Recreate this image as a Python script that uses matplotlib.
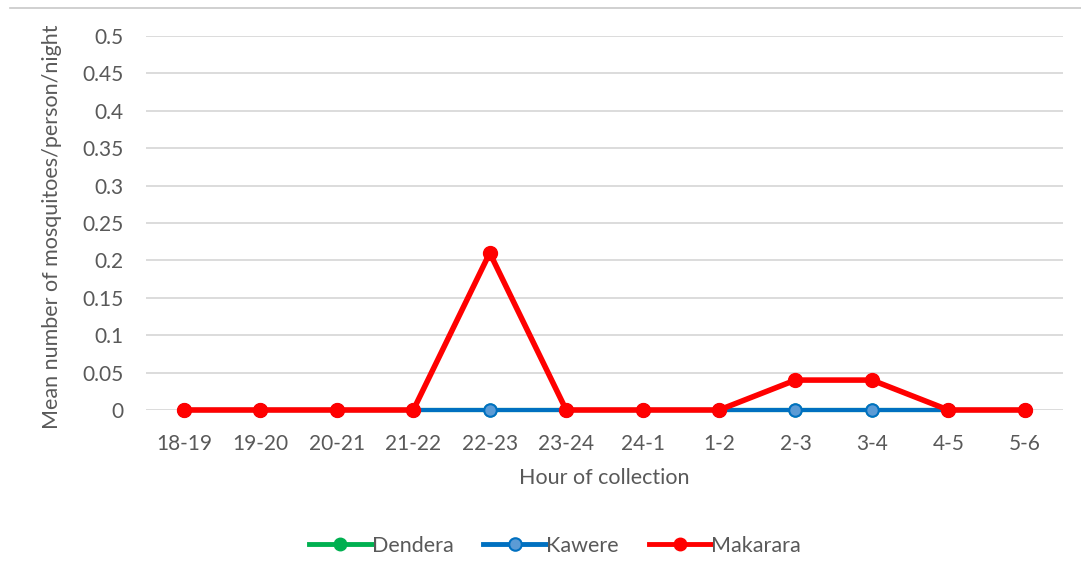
import matplotlib
matplotlib.use("Agg")
import matplotlib.pyplot as plt
from matplotlib.lines import Line2D

hours = ["18-19", "19-20", "20-21", "21-22", "22-23", "23-24",
         "24-1", "1-2", "2-3", "3-4", "4-5", "5-6"]
dendera = [0, 0, 0, 0, 0, 0, 0, 0, 0, 0, 0, 0]
kawere = [0, 0, 0, 0, 0, 0, 0, 0, 0, 0, 0, 0]
makarara = [0, 0, 0, 0, 0.21, 0, 0, 0, 0.04, 0.04, 0, 0]
y_ticks = [0, 0.05, 0.1, 0.15, 0.2, 0.25, 0.3, 0.35, 0.4, 0.45, 0.5]
y_tick_labels = ["0", "0.05", "0.1", "0.15", "0.2", "0.25", "0.3",
                 "0.35", "0.4", "0.45", "0.5"]

plt.rcParams["font.family"] = ["Lato", "DejaVu Sans"]
text_color = "#595959"

W, H = 1081, 561
fig = plt.figure(figsize=(W / 100, H / 100), dpi=100)
ax = fig.add_axes([145.8 / W, 1 - 410 / H, (1063 - 145.8) / W, (410 - 36) / H])

x = list(range(len(hours)))
ax.plot(x, dendera, color="#00B050", lw=3, marker="o", ms=9,
        mfc="#00B050", mec="#00B050", zorder=3, label="Dendera")
ax.plot(x, kawere, color="#0070C0", lw=3, marker="o", ms=9,
        mfc="#5B9BD5", mec="#0070C0", mew=1.5, zorder=4, label="Kawere")
ax.plot(x, makarara, color="#FF0000", lw=4, marker="o", ms=10,
        mfc="#FF0000", mec="#FF0000", zorder=5, label="Makarara")

ax.set_xlim(-0.5, len(hours) - 0.5)
ax.set_ylim(0, 0.5)
ax.set_yticks(y_ticks)
ax.set_yticklabels(y_tick_labels)
ax.set_xticks(x)
ax.set_xticklabels(hours)
ax.tick_params(axis="both", length=0, labelsize=15, colors=text_color)
ax.tick_params(axis="y", pad=16)
ax.tick_params(axis="x", pad=17)
for s in ax.spines.values():
    s.set_visible(False)
ax.yaxis.grid(True, color="#D9D9D9", lw=1.3)
ax.set_axisbelow(True)
for line in ax.lines:
    line.set_clip_on(False)

ax.set_xlabel("Hour of collection", fontsize=15.5, color=text_color, labelpad=10)
fig.text(52 / W, 1 - 227 / H, "Mean number of mosquitoes/person/night",
         rotation=90, ha="center", va="center", fontsize=15.5, color=text_color)

# thin frame line across the top
fig.add_artist(Line2D([10 / W, 1.0], [1 - 8 / H, 1 - 8 / H],
                      transform=fig.transFigure, color="#C8C8C8", lw=1.2))

handles = [
    Line2D([], [], color="#00B050", lw=3.5, marker="o", ms=9, mfc="#00B050", mec="#00B050"),
    Line2D([], [], color="#0070C0", lw=3.5, marker="o", ms=9, mfc="#5B9BD5", mec="#0070C0", mew=1.5),
    Line2D([], [], color="#FF0000", lw=3.5, marker="o", ms=9, mfc="#FF0000", mec="#FF0000"),
]
leg = fig.legend(handles, ["Dendera", "Kawere", "Makarara"], loc="center",
                 bbox_to_anchor=(555 / W, 1 - 546 / H), ncol=3, frameon=False,
                 fontsize=15.5, handlelength=2.9, handletextpad=0.0,
                 columnspacing=1.4)
for t in leg.get_texts():
    t.set_color(text_color)

fig.savefig("out.png", dpi=100, facecolor="white")
